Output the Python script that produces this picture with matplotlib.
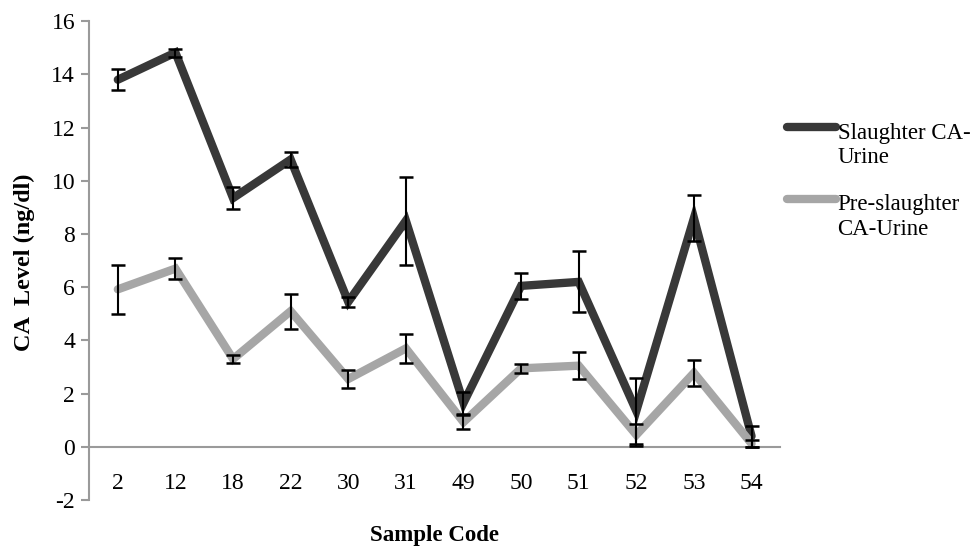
import matplotlib
matplotlib.use('Agg')
import matplotlib.pyplot as plt
from matplotlib.legend_handler import HandlerLine2D
import numpy as np

# sample codes on the x axis
sample_codes = ['2', '12', '18', '22', '30', '31', '49', '50', '51', '52', '53', '54']

# CA levels (ng/dl), with error bar half-widths
slaughter = [13.8, 14.82, 9.35, 10.8, 5.45, 8.5, 1.65, 6.05, 6.2, 1.35, 8.6, 0.4]
slaughter_err = [0.4, 0.15, 0.42, 0.27, 0.18, 1.65, 0.4, 0.49, 1.15, 1.25, 0.88, 0.4]
pre_slaughter = [5.92, 6.7, 3.3, 5.1, 2.55, 3.7, 0.93, 2.95, 3.05, 0.45, 2.78, 0.12]
pre_err = [0.92, 0.4, 0.15, 0.66, 0.33, 0.55, 0.26, 0.16, 0.51, 0.42, 0.5, 0.12]

dark = '#383838'
light = '#a6a6a6'
axis_grey = '#9a9a9a'

plt.rcParams['font.family'] = ['Liberation Serif', 'DejaVu Serif']
plt.rcParams['axes.unicode_minus'] = False


class FirstLineHandler(HandlerLine2D):
    # put the legend line next to the first line of a two-line label
    def create_artists(self, legend, orig_handle, xdescent, ydescent, width, height, fontsize, trans):
        arts = super().create_artists(legend, orig_handle, xdescent, ydescent, width, height, fontsize, trans)
        for a in arts:
            a.set_ydata(np.asarray(a.get_ydata()) + 0.8 * fontsize)
        return arts


fig = plt.figure(figsize=(9.73, 5.46), dpi=100)
ax = fig.add_axes([0.0915, 0.0842, 0.7105, 0.877])

x = np.arange(len(sample_codes))

l1, = ax.plot(x, slaughter, color=dark, lw=6, solid_capstyle='round', solid_joinstyle='miter', zorder=2)
l2, = ax.plot(x, pre_slaughter, color=light, lw=6, solid_capstyle='round', solid_joinstyle='miter', zorder=3)
ax.errorbar(x, slaughter, yerr=slaughter_err, fmt='none', ecolor='black', elinewidth=1.5,
            capsize=5, capthick=1.8, zorder=4)
ax.errorbar(x, pre_slaughter, yerr=pre_err, fmt='none', ecolor='black', elinewidth=1.5,
            capsize=5, capthick=1.8, zorder=4)

ax.set_xlim(-0.5, len(sample_codes) - 0.5)
ax.set_ylim(-2, 16)
ax.set_yticks(np.arange(-2, 17, 2))
ax.set_xticks(x)
ax.set_xticklabels(sample_codes)

for s in ['top', 'right']:
    ax.spines[s].set_visible(False)
ax.spines['left'].set_color(axis_grey)
ax.spines['left'].set_linewidth(1.5)
ax.spines['bottom'].set_position(('data', 0))
ax.spines['bottom'].set_color(axis_grey)
ax.spines['bottom'].set_linewidth(1.5)

ax.tick_params(axis='y', length=6, width=1.5, color=axis_grey, labelsize=17, pad=4)
ax.tick_params(axis='x', length=0, labelsize=17, pad=19)

ax.set_xlabel('Sample Code', fontsize=16.5, fontweight='bold', va='center')
ax.xaxis.set_label_coords(0.5, -0.075)
ax.set_ylabel('CA  Level (ng/dl)', fontsize=17.5, fontweight='bold', va='center')
ax.yaxis.set_label_coords(-0.094, 0.497)

fig.legend([l1, l2], ['Slaughter CA-\nUrine', 'Pre-slaughter\nCA-Urine'],
           loc='upper left', bbox_to_anchor=(0.809, 0.775), frameon=False, fontsize=16.5,
           borderpad=0, borderaxespad=0,
           handlelength=2.15, handletextpad=0.05, labelspacing=1.15,
           handler_map={matplotlib.lines.Line2D: FirstLineHandler()})

fig.savefig('out.png', dpi=100)
